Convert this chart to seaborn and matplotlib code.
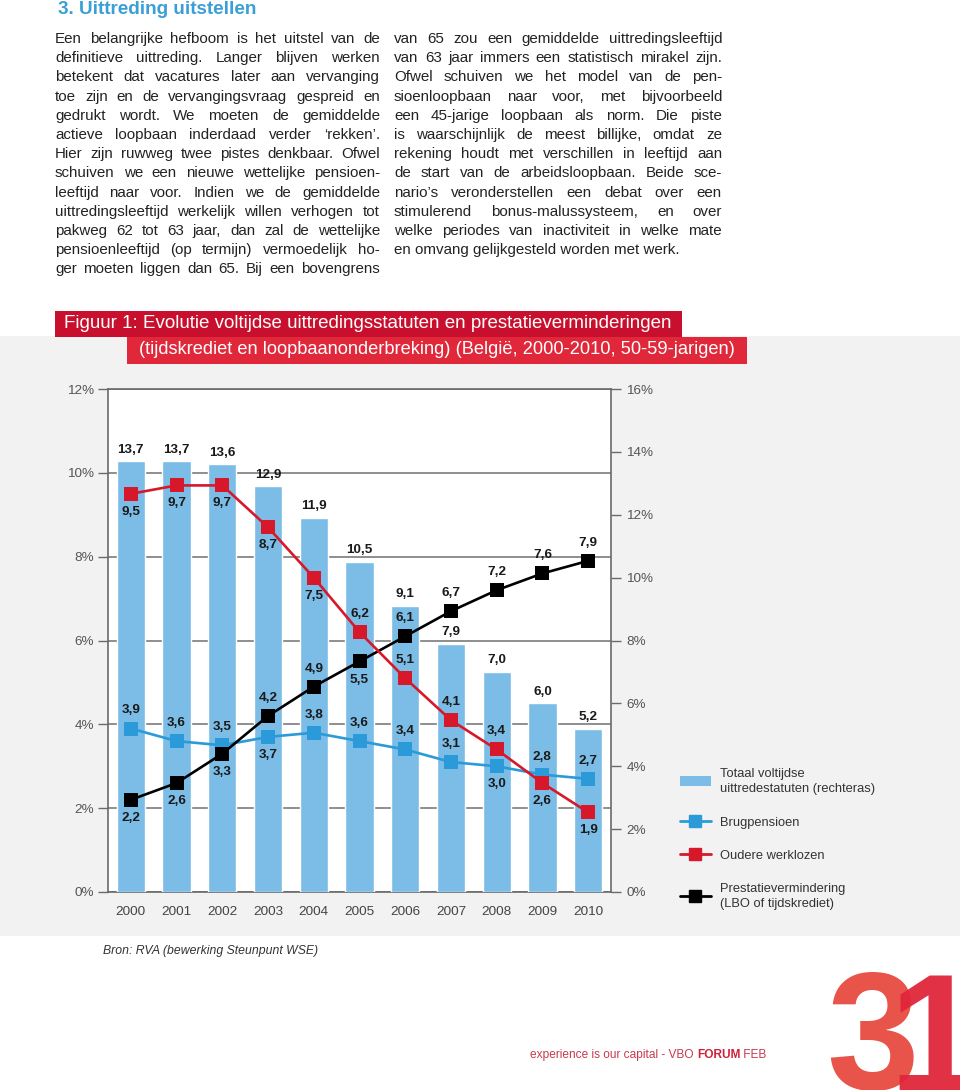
import matplotlib
matplotlib.use("Agg")
import numpy as np
import matplotlib.pyplot as plt
import seaborn as sns
from matplotlib.patches import Rectangle, Patch
from matplotlib.lines import Line2D
from matplotlib import font_manager

sns.set_style("white")
plt.rcParams["font.family"] = ["Liberation Sans", "DejaVu Sans"]

installed = {f.name for f in font_manager.fontManager.ttflist}
narrow = "Liberation Sans Narrow" if "Liberation Sans Narrow" in installed else "Liberation Sans"

# ---- data ----
years = ["2000", "2001", "2002", "2003", "2004", "2005", "2006", "2007", "2008", "2009", "2010"]
totaal = [13.7, 13.7, 13.6, 12.9, 11.9, 10.5, 9.1, 7.9, 7.0, 6.0, 5.2]
brugpensioen = [3.9, 3.6, 3.5, 3.7, 3.8, 3.6, 3.4, 3.1, 3.0, 2.8, 2.7]
oudere_werklozen = [9.5, 9.7, 9.7, 8.7, 7.5, 6.2, 5.1, 4.1, 3.4, 2.6, 1.9]
prestatievermindering = [2.2, 2.6, 3.3, 4.2, 4.9, 5.5, 6.1, 6.7, 7.2, 7.6, 7.9]
left_ticks = [0, 2, 4, 6, 8, 10, 12]
right_ticks = [0, 2, 4, 6, 8, 10, 12, 14, 16]

# where each value label sits: 1 above the marker, -1 below
brug_side = [1, 1, 1, -1, 1, 1, 1, 1, -1, 1, 1]
red_side = [-1, -1, -1, -1, -1, 1, 1, 1, 1, -1, -1]
black_side = [-1, -1, -1, 1, 1, -1, 1, 1, 1, 1, 1]

bar_color = "#7bbde6"
blue = "#2a9bd8"
red = "#d7182a"
black = "#000000"

left_lines = [
    "Een belangrijke hefboom is het uitstel van de",
    "definitieve uittreding. Langer blijven werken",
    "betekent dat vacatures later aan vervanging",
    "toe zijn en de vervangingsvraag gespreid en",
    "gedrukt wordt. We moeten de gemiddelde",
    "actieve loopbaan inderdaad verder \u2018rekken\u2019.",
    "Hier zijn ruwweg twee pistes denkbaar. Ofwel",
    "schuiven we een nieuwe wettelijke pensioen-",
    "leeftijd naar voor. Indien we de gemiddelde",
    "uittredingsleeftijd werkelijk willen verhogen tot",
    "pakweg 62 tot 63 jaar, dan zal de wettelijke",
    "pensioenleeftijd (op termijn) vermoedelijk ho-",
    "ger moeten liggen dan 65. Bij een bovengrens",
]
right_lines = [
    "van 65 zou een gemiddelde uittredingsleeftijd",
    "van 63 jaar immers een statistisch mirakel zijn.",
    "Ofwel schuiven we het model van de pen-",
    "sioenloopbaan naar voor, met bijvoorbeeld",
    "een 45-jarige loopbaan als norm. Die piste",
    "is waarschijnlijk de meest billijke, omdat ze",
    "rekening houdt met verschillen in leeftijd aan",
    "de start van de arbeidsloopbaan. Beide sce-",
    "nario\u2019s veronderstellen een debat over een",
    "stimulerend bonus-malussysteem, en over",
    "welke periodes van inactiviteit in welke mate",
    "en omvang gelijkgesteld worden met werk.",
]

fig = plt.figure(figsize=(9.6, 10.9), dpi=100)
renderer = fig.canvas.get_renderer()

# page layer in pixel coordinates
bg = fig.add_axes([0, 0, 1, 1])
bg.set_xlim(0, 960)
bg.set_ylim(1090, 0)
bg.set_axis_off()
bg.set_zorder(-1)

bg.add_patch(Rectangle((0, 336), 960, 600, color="#f2f2f2", lw=0))
bg.add_patch(Rectangle((55, 311), 627, 26, color="#c8102e", lw=0))
bg.add_patch(Rectangle((127, 337), 620, 27, color="#e1283b", lw=0))


def fit_text(x, y, s, width, size, **kw):
    t = bg.text(x, y, s, fontsize=size, va="center", **kw)
    w = t.get_window_extent(renderer).width
    t.set_fontsize(size * width / w)
    return t


fit_text(64, 324, "Figuur 1: Evolutie voltijdse uittredingsstatuten en prestatieverminderingen",
         613, 12, color="white", family=narrow)
fit_text(139, 350, "(tijdskrediet en loopbaanonderbreking) (Belgi\u00eb, 2000-2010, 50-59-jarigen)",
         598, 12, color="white", family=narrow)

bg.text(58, 10, "3. Uittreding uitstellen", color="#3a9fd6", fontweight="bold",
        fontsize=13.6, va="center")

BODY = 10.9


def justified(lines, x0, width, y0, dy, last_left=False):
    for k, line in enumerate(lines):
        y = y0 + k * dy
        if last_left and k == len(lines) - 1:
            bg.text(x0, y, line, va="center", fontsize=BODY, color="#222222")
            continue
        words = line.split()
        size = BODY
        while True:
            objs = [bg.text(0, y, w, va="center", fontsize=size, color="#222222") for w in words]
            widths = [o.get_window_extent(renderer).width for o in objs]
            gap = (width - sum(widths)) / (len(words) - 1)
            if gap >= 2.8 or size < 8:
                break
            for o in objs:
                o.remove()
            size -= 0.2
        x = x0
        for o, w in zip(objs, widths):
            o.set_x(x)
            x += w + gap


justified(left_lines, 55, 325, 39, 19.2)
justified(right_lines, 394, 328, 39, 19.2, last_left=True)

bg.text(103, 951, "Bron: RVA (bewerking Steunpunt WSE)", fontstyle="italic",
        fontsize=8.8, color="#333333", va="center")

t1 = bg.text(530, 1055, "experience is our capital - VBO ", fontsize=8.6, color="#c8394f", va="center")
t2 = bg.annotate("FORUM", xy=(1, 0), xycoords=t1, va="bottom", fontsize=8.6,
                 fontweight="bold", color="#d01f36")
bg.annotate(" FEB", xy=(1, 0), xycoords=t2, va="bottom", fontsize=8.6, color="#c8394f")

bg.text(826, 1089, "3", fontsize=120, fontweight="bold", color="#e8534a", va="baseline")
bg.text(888, 1092, "1", fontsize=122, fontweight="bold", color="#e0263a", va="baseline", alpha=0.95)

# ---- chart ----
ax = fig.add_axes([108 / 960, 1 - 892 / 1090, 503 / 960, 503 / 1090])
ax.set_facecolor("white")
ax.set_ylim(0, 12)
ax.set_yticks(left_ticks)
ax.set_yticklabels([f"{t}%" for t in left_ticks])
ax.yaxis.grid(True, color="#707070", lw=1.1)
ax.tick_params(axis="y", length=7, width=1, direction="out", color="#6a6a6a",
               labelsize=9.7, labelcolor="#555555", pad=3)
for s in ax.spines.values():
    s.set_color("#6a6a6a")
    s.set_linewidth(1.2)

axb = ax.twinx()
sns.barplot(x=years, y=totaal, ax=axb, color=bar_color, saturation=1, width=0.62)
axb.bar_label(axb.containers[0], labels=[f"{v:.1f}".replace(".", ",") for v in totaal],
              padding=4, fontsize=9.7, fontweight="bold", color="#1a1a1a")
axb.set_ylim(0, 16)
axb.set_yticks(right_ticks)
axb.set_yticklabels([f"{t}%" for t in right_ticks])
axb.tick_params(axis="y", length=7, width=1, direction="out", color="#6a6a6a",
                labelsize=9.7, labelcolor="#555555", pad=4)
axb.set_ylabel("")
for s in axb.spines.values():
    s.set_visible(False)

axl = ax.twinx()
for vals, col, side in [(brugpensioen, blue, brug_side),
                        (prestatievermindering, black, black_side),
                        (oudere_werklozen, red, red_side)]:
    sns.pointplot(x=years, y=vals, ax=axl, color=col, markers="s", markersize=9,
                  linewidth=1.9, errorbar=None)
    for i, (v, sd) in enumerate(zip(vals, side)):
        axl.annotate(f"{v:.1f}".replace(".", ","), (i, v), xytext=(0, 13 * sd),
                     textcoords="offset points", ha="center", va="center",
                     fontsize=9.7, fontweight="bold", color="#1a1a1a")
axl.set_ylim(0, 12)
axl.set_axis_off()

ax.set_xlim(-0.5, 10.5)
ax.set_xticks(range(len(years)))
ax.set_xticklabels(years)
ax.set_xticks(np.arange(-0.5, len(years), 1), minor=True)
ax.tick_params(axis="x", which="major", length=0, pad=10, labelsize=9.7, labelcolor="#444444")
ax.tick_params(axis="x", which="minor", length=7, width=1, direction="out", color="#6a6a6a")
ax.set_xlabel("")
axb.set_xlabel("")

handles = [
    Patch(facecolor=bar_color, edgecolor="none"),
    Line2D([0], [0], color=blue, lw=2, marker="s", markersize=8),
    Line2D([0], [0], color=red, lw=2, marker="s", markersize=8),
    Line2D([0], [0], color=black, lw=2, marker="s", markersize=8),
]
labels = ["Totaal voltijdse\nuittredestatuten (rechteras)", "Brugpensioen",
          "Oudere werklozen", "Prestatievermindering\n(LBO of tijdskrediet)"]
leg = bg.legend(handles, labels, loc="upper left", bbox_to_anchor=(668, 756),
                bbox_transform=bg.transData, frameon=False, fontsize=9.3,
                handlelength=2.4, handleheight=0.8, handletextpad=0.7, labelspacing=1.62,
                labelcolor="#333333")
for t in leg.get_texts():
    t.set_linespacing(1.4)

fig.savefig("out.png", dpi=100)
